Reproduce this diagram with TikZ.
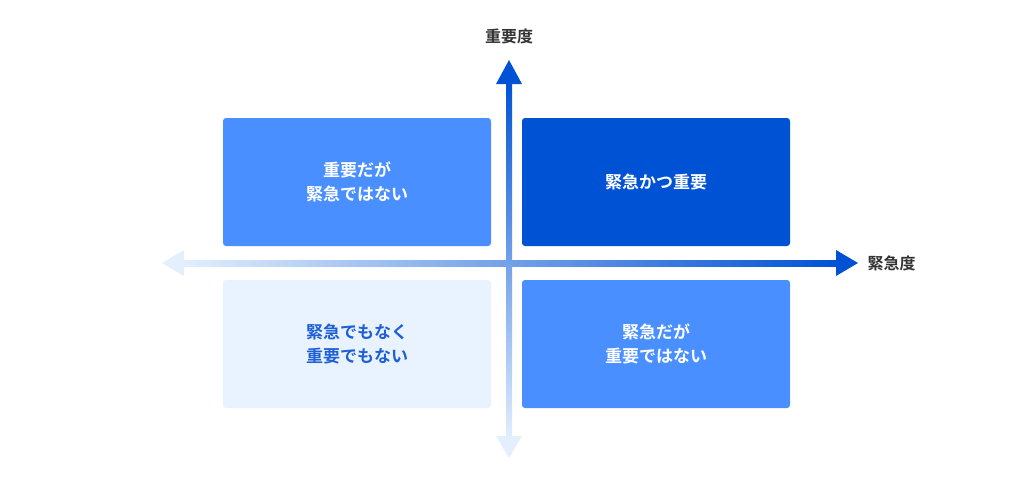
\documentclass[tikz,border=0pt]{standalone}
\usepackage{fontspec}
\newfontfamily\cjk[BoldFont={Noto Sans CJK JP Bold}]{Noto Sans CJK JP}
\usetikzlibrary{positioning}
\definecolor{darkblue}{HTML}{0052D4}
\definecolor{midblue}{HTML}{4A8FFF}
\definecolor{paleblue}{HTML}{E8F3FF}
\definecolor{textblue}{HTML}{1E5FD6}
\definecolor{fadeblue}{HTML}{E3EFFD}
\definecolor{axisgray}{HTML}{333333}
\tikzset{
  quad/.style={rounded corners=3pt, minimum width=268pt, minimum height=128pt, align=center,
    font=\cjk\bfseries\fontsize{17pt}{24pt}\selectfont, inner sep=0pt},
  axislabel/.style={font=\cjk\bfseries\fontsize{16pt}{20pt}\selectfont, text=axisgray}
}
\begin{document}
\begin{tikzpicture}[x=1pt,y=-1pt]
\useasboundingbox (0,0) rectangle (1024,480);
%Quadrants
\node[quad, fill=midblue, text=white] (tl) at (357,182) {重要だが\\緊急ではない};
\node[quad, fill=darkblue, text=white] (tr) at (656,182) {緊急かつ重要};
\node[quad, fill=paleblue, text=textblue] (bl) at (357,344) {緊急でもなく\\重要でもない};
\node[quad, fill=midblue, text=white] (br) at (656,344) {緊急だが\\重要ではない};
%Horizontal axis
\shade[left color=fadeblue, right color=darkblue] (180,260) rectangle (840,266);
\fill[fadeblue] (162,263) -- (184,250) -- (184,276) -- cycle;
\fill[darkblue] (858,263) -- (836,250) -- (836,276) -- cycle;
%Vertical axis
\shade[top color=darkblue, bottom color=fadeblue] (506,80) rectangle (512,440);
\fill[darkblue] (509,60) -- (496,84) -- (522,84) -- cycle;
\fill[fadeblue] (509,458) -- (496,436) -- (522,436) -- cycle;
%Axis labels
\node[axislabel] (imp) at (509,36) {重要度};
\node[axislabel, right=6pt of {(858,263)}] (urg) {緊急度};
\end{tikzpicture}
\end{document}
